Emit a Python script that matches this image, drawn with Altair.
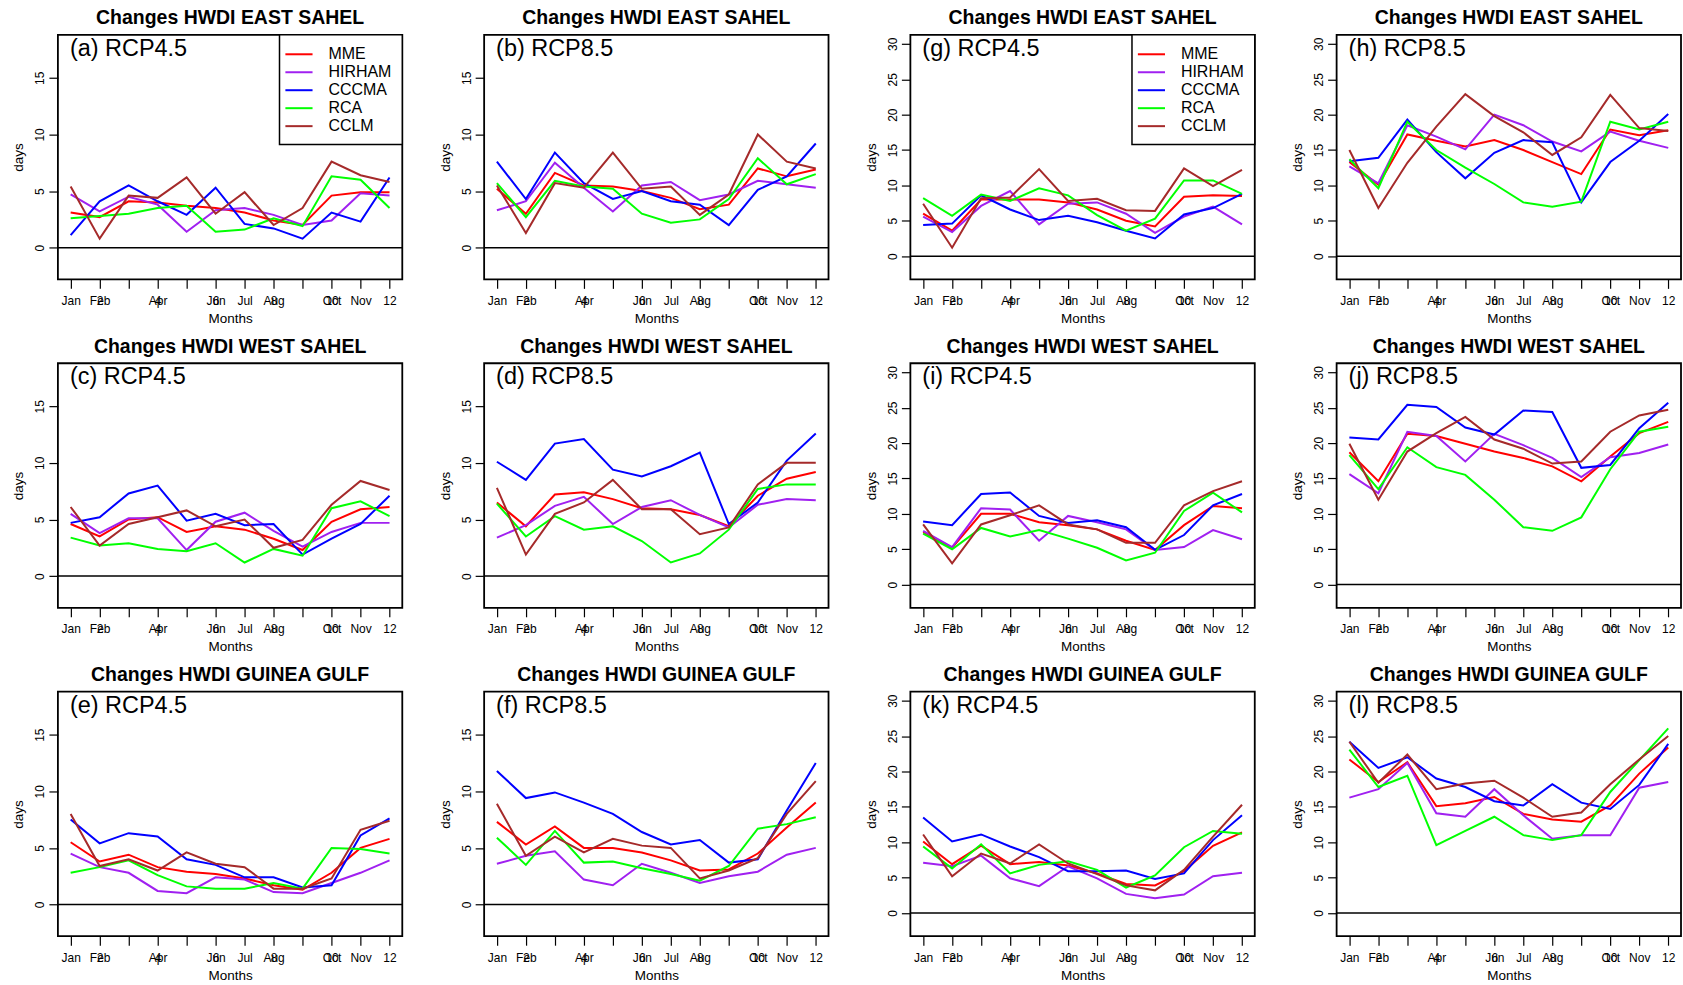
import altair as alt
import pandas as pd

FONT = "Liberation Sans"

months = list(range(1, 13))
month_names = ["Jan", "Feb", "Mar", "Apr", "May", "Jun", "Jul", "Aug", "Sep", "Oct", "Nov", "Dec"]
shown_month_labels = [1, 2, 4, 6, 7, 8, 10, 11]
number_ticks = [2, 4, 6, 8, 10, 12]
models = ["MME", "HIRHAM", "CCCMA", "RCA", "CCLM"]
colors = ["#FF0000", "#A020F0", "#0000FF", "#00FF00", "#A52A2A"]
yticks_left = [0, 5, 10, 15]
yticks_right = [0, 5, 10, 15, 20, 25, 30]

panel_a = {
    "MME":    [3.1, 2.7, 4.1, 4.0, 3.7, 3.5, 3.1, 2.4, 2.0, 4.6, 4.9, 4.9],
    "HIRHAM": [4.7, 3.2, 4.5, 3.8, 1.4, 3.3, 3.5, 2.9, 2.0, 2.4, 4.8, 4.6],
    "CCCMA":  [1.1, 4.1, 5.5, 4.1, 2.9, 5.3, 2.1, 1.7, 0.8, 3.1, 2.3, 6.2],
    "RCA":    [2.6, 2.8, 3.0, 3.5, 3.7, 1.4, 1.6, 2.6, 1.9, 6.3, 6.0, 3.5],
    "CCLM":   [5.4, 0.8, 4.6, 4.4, 6.2, 3.0, 4.9, 2.0, 3.5, 7.6, 6.4, 5.8],
}
panel_b = {
    "MME":    [5.2, 3.0, 6.6, 5.5, 5.4, 5.0, 4.4, 3.4, 3.8, 7.0, 6.3, 6.9],
    "HIRHAM": [3.3, 4.1, 7.5, 5.3, 3.2, 5.5, 5.8, 4.2, 4.7, 5.9, 5.6, 5.3],
    "CCCMA":  [7.6, 4.3, 8.4, 5.7, 4.3, 5.0, 4.1, 3.8, 2.0, 5.1, 6.3, 9.2],
    "RCA":    [5.7, 2.7, 5.9, 5.4, 5.2, 3.0, 2.2, 2.5, 4.3, 7.9, 5.6, 6.5],
    "CCLM":   [5.5, 1.3, 5.7, 5.3, 8.4, 5.2, 5.4, 2.9, 4.7, 10.0, 7.6, 7.0],
}
panel_g = {
    "MME":    [6.0, 3.6, 8.0, 8.0, 8.0, 7.6, 6.6, 5.0, 4.2, 8.4, 8.6, 8.5],
    "HIRHAM": [5.6, 3.4, 7.1, 9.2, 4.5, 7.4, 7.6, 6.0, 3.3, 5.6, 7.0, 4.5],
    "CCCMA":  [4.4, 4.6, 8.6, 6.6, 5.1, 5.7, 4.8, 3.6, 2.5, 5.9, 6.8, 8.8],
    "RCA":    [8.2, 5.7, 8.7, 7.8, 9.6, 8.6, 5.8, 3.6, 5.3, 10.7, 10.7, 8.8],
    "CCLM":   [7.4, 1.2, 8.2, 8.3, 12.3, 7.8, 8.1, 6.5, 6.4, 12.4, 9.9, 12.2],
}
panel_h = {
    "MME":    [13.3, 10.1, 17.2, 16.3, 15.5, 16.4, 15.0, 13.3, 11.6, 17.9, 17.1, 17.8],
    "HIRHAM": [12.7, 10.3, 18.5, 16.9, 15.1, 20.0, 18.5, 16.2, 14.8, 17.6, 16.3, 15.3],
    "CCCMA":  [13.4, 13.9, 19.3, 14.7, 11.0, 14.6, 16.4, 16.1, 7.6, 13.3, 16.3, 20.1],
    "RCA":    [13.7, 9.6, 19.0, 15.0, 12.5, 10.2, 7.6, 7.0, 7.7, 19.0, 17.9, 19.0],
    "CCLM":   [15.0, 6.8, 13.2, 18.3, 22.9, 19.8, 17.5, 14.3, 16.8, 22.8, 18.1, 17.7],
}
panel_c = {
    "MME":    [4.6, 3.5, 5.0, 5.2, 3.9, 4.4, 4.1, 3.3, 2.3, 4.8, 5.9, 6.1],
    "HIRHAM": [5.5, 3.8, 5.1, 5.1, 2.3, 4.8, 5.6, 4.0, 2.6, 3.9, 4.7, 4.7],
    "CCCMA":  [4.7, 5.2, 7.3, 8.0, 4.9, 5.5, 4.5, 4.6, 1.9, 3.3, 4.6, 7.1],
    "RCA":    [3.4, 2.7, 2.9, 2.4, 2.2, 2.9, 1.2, 2.4, 1.8, 6.0, 6.6, 5.3],
    "CCLM":   [6.1, 2.7, 4.6, 5.2, 5.8, 4.4, 5.0, 2.5, 3.2, 6.3, 8.4, 7.6],
}
panel_d = {
    "MME":    [6.5, 4.4, 7.2, 7.4, 6.8, 6.0, 5.9, 5.4, 4.4, 7.1, 8.6, 9.2],
    "HIRHAM": [3.4, 4.5, 6.2, 7.0, 4.6, 6.1, 6.7, 5.4, 4.3, 6.3, 6.8, 6.7],
    "CCCMA":  [10.1, 8.5, 11.7, 12.1, 9.4, 8.8, 9.7, 10.9, 4.6, 6.5, 10.2, 12.6],
    "RCA":    [6.4, 3.5, 5.3, 4.1, 4.4, 3.1, 1.2, 2.0, 4.1, 7.7, 8.1, 8.1],
    "CCLM":   [7.8, 1.9, 5.5, 6.5, 8.5, 5.9, 5.9, 3.7, 4.3, 8.1, 10.0, 10.0],
}
panel_i = {
    "MME":    [7.4, 5.2, 10.0, 10.0, 8.8, 8.4, 7.8, 6.2, 4.9, 8.4, 11.1, 10.8],
    "HIRHAM": [7.6, 5.3, 10.8, 10.6, 6.2, 9.7, 8.8, 7.8, 4.9, 5.3, 7.7, 6.4],
    "CCCMA":  [8.9, 8.4, 12.8, 13.0, 9.7, 8.7, 9.1, 8.1, 4.9, 7.0, 11.2, 12.8],
    "RCA":    [7.2, 5.0, 8.0, 6.8, 7.7, 6.5, 5.2, 3.4, 4.5, 10.4, 13.0, 10.2],
    "CCLM":   [8.5, 3.0, 8.5, 9.8, 11.2, 8.5, 7.8, 5.9, 5.9, 11.2, 13.2, 14.6],
}
panel_j = {
    "MME":    [18.7, 14.6, 21.3, 21.0, 19.9, 18.8, 17.9, 16.7, 14.6, 18.1, 21.4, 23.0],
    "HIRHAM": [15.6, 12.9, 21.6, 21.0, 17.4, 21.3, 19.7, 17.9, 15.2, 18.0, 18.6, 19.8],
    "CCCMA":  [20.8, 20.5, 25.4, 25.1, 22.2, 21.2, 24.6, 24.4, 16.5, 16.9, 22.1, 25.7],
    "RCA":    [18.3, 13.5, 19.4, 16.6, 15.5, 12.0, 8.1, 7.6, 9.5, 16.3, 21.6, 22.3],
    "CCLM":   [19.9, 12.0, 18.8, 21.4, 23.7, 20.5, 19.2, 17.1, 17.4, 21.6, 23.9, 24.7],
}
panel_e = {
    "MME":    [5.5, 3.8, 4.4, 3.3, 2.9, 2.7, 2.3, 1.7, 1.3, 2.8, 5.0, 5.8],
    "HIRHAM": [4.5, 3.3, 2.8, 1.2, 1.0, 2.4, 2.2, 1.1, 1.0, 1.9, 2.8, 3.9],
    "CCCMA":  [7.5, 5.4, 6.3, 6.0, 4.0, 3.5, 2.4, 2.4, 1.5, 1.7, 6.1, 7.6],
    "RCA":    [2.8, 3.3, 3.9, 2.6, 1.6, 1.4, 1.4, 1.9, 1.4, 5.0, 4.9, 4.5],
    "CCLM":   [8.0, 3.4, 4.0, 3.0, 4.6, 3.6, 3.3, 1.4, 1.4, 2.3, 6.6, 7.4],
}
panel_f = {
    "MME":    [7.3, 5.3, 6.9, 5.0, 5.0, 4.6, 3.9, 3.0, 3.1, 4.5, 6.8, 9.0],
    "HIRHAM": [3.6, 4.3, 4.7, 2.2, 1.7, 3.6, 2.8, 1.9, 2.5, 2.9, 4.4, 5.0],
    "CCCMA":  [11.8, 9.4, 9.9, 9.0, 8.0, 6.4, 5.3, 5.7, 3.7, 4.0, 8.3, 12.5],
    "RCA":    [5.9, 3.5, 6.5, 3.7, 3.8, 3.2, 2.7, 2.1, 3.4, 6.7, 7.1, 7.7],
    "CCLM":   [8.9, 4.3, 6.0, 4.6, 5.8, 5.2, 5.0, 2.3, 3.0, 4.1, 8.0, 10.9],
}
panel_k = {
    "MME":    [10.1, 6.9, 9.5, 6.9, 7.2, 6.7, 5.6, 4.1, 3.9, 5.9, 9.5, 11.4],
    "HIRHAM": [7.1, 6.6, 8.1, 4.9, 3.8, 6.6, 4.9, 2.7, 2.1, 2.6, 5.2, 5.7],
    "CCCMA":  [13.5, 10.1, 11.1, 9.4, 7.9, 5.9, 5.9, 6.0, 4.8, 5.6, 10.3, 13.8],
    "RCA":    [9.4, 6.3, 9.7, 5.6, 6.8, 7.3, 6.1, 3.6, 5.3, 9.3, 11.6, 11.2],
    "CCLM":   [11.1, 5.2, 8.4, 7.0, 9.7, 7.0, 5.5, 3.9, 3.2, 6.1, 10.8, 15.3],
}
panel_l = {
    "MME":    [21.7, 18.5, 21.3, 15.1, 15.5, 16.4, 14.0, 13.2, 12.9, 15.2, 19.7, 23.4],
    "HIRHAM": [16.3, 17.5, 21.2, 14.1, 13.6, 17.5, 13.8, 10.5, 11.0, 11.0, 17.7, 18.5],
    "CCCMA":  [24.2, 20.5, 22.0, 19.0, 17.8, 15.8, 15.2, 18.2, 15.6, 14.7, 18.1, 23.9],
    "RCA":    [23.1, 17.8, 19.4, 9.6, 11.6, 13.6, 11.0, 10.3, 11.0, 17.1, 21.6, 26.1],
    "CCLM":   [24.2, 18.4, 22.4, 17.5, 18.3, 18.7, 16.3, 13.6, 14.2, 18.2, 21.7, 25.0],
}

panel_specs = [
    ("a", "RCP4.5", "EAST SAHEL", panel_a, 18, yticks_left, True),
    ("b", "RCP8.5", "EAST SAHEL", panel_b, 18, yticks_left, False),
    ("g", "RCP4.5", "EAST SAHEL", panel_g, 30, yticks_right, True),
    ("h", "RCP8.5", "EAST SAHEL", panel_h, 30, yticks_right, False),
    ("c", "RCP4.5", "WEST SAHEL", panel_c, 18, yticks_left, False),
    ("d", "RCP8.5", "WEST SAHEL", panel_d, 18, yticks_left, False),
    ("i", "RCP4.5", "WEST SAHEL", panel_i, 30, yticks_right, False),
    ("j", "RCP8.5", "WEST SAHEL", panel_j, 30, yticks_right, False),
    ("e", "RCP4.5", "GUINEA GULF", panel_e, 18, yticks_left, False),
    ("f", "RCP8.5", "GUINEA GULF", panel_f, 18, yticks_left, False),
    ("k", "RCP4.5", "GUINEA GULF", panel_k, 30, yticks_right, False),
    ("l", "RCP8.5", "GUINEA GULF", panel_l, 30, yticks_right, False),
]

W, H = 345, 245
X_LO, X_HI = 1 - 0.04 * 11, 12 + 0.04 * 11

label_expr = ""
for m in shown_month_labels:
    label_expr += f"datum.value == {m} ? '{month_names[m - 1]}' : "
label_expr += "''"


def make_panel(letter, rcp, region, series, ymax, yticks, with_legend):
    rows = []
    for model in models:
        for m, v in zip(months, series[model]):
            rows.append({"month": m, "value": v, "model": model})
    df = pd.DataFrame(rows)
    span = ymax + 2
    yscale = alt.Scale(domain=[-2 - 0.04 * span, ymax + 0.04 * span], nice=False, zero=False)
    xscale = alt.Scale(domain=[X_LO, X_HI], nice=False, zero=False)

    if with_legend:
        legend = alt.Legend(
            title=None, orient="top-right", offset=0,
            strokeColor="black", fillColor="white", padding=10,
            labelFont=FONT, labelFontSize=16, labelColor="black",
            symbolType="M-1.6,0H1.6", symbolSize=289, symbolStrokeWidth=2,
            labelOffset=20, rowPadding=0,
        )
    else:
        legend = None

    lines = alt.Chart(df).mark_line(strokeWidth=2).encode(
        x=alt.X("month:Q", scale=xscale,
                axis=alt.Axis(values=months, labelExpr=label_expr, title="Months",
                              orient="bottom", labelPadding=7, titlePadding=5,
                              labelOverlap=False)),
        y=alt.Y("value:Q", scale=yscale,
                axis=alt.Axis(values=yticks, title="days", labelAngle=270,
                              labelAlign="center", labelBaseline="bottom",
                              labelPadding=2, titlePadding=8, format="d")),
        color=alt.Color("model:N", scale=alt.Scale(domain=models, range=colors),
                        sort=models, legend=legend),
        order=alt.Order("month:Q"),
    )

    zero = alt.Chart(pd.DataFrame({"v": [0]})).mark_rule(color="black", strokeWidth=1.5).encode(
        x=alt.X(datum=X_LO, scale=xscale,
                axis=alt.Axis(values=number_ticks, orient="bottom", title=None,
                              ticks=False, labelPadding=16, format="d",
                              labelOverlap=False)),
        x2=alt.datum(X_HI),
        y=alt.Y(datum=0),
    )

    tag = alt.Chart(pd.DataFrame({"label": [f"({letter}) {rcp}"]})).mark_text(
        align="left", baseline="middle", fontSize=23.5, font=FONT, color="black"
    ).encode(x=alt.value(12), y=alt.value(14), text="label:N")

    return alt.layer(lines, zero, tag).resolve_scale(x="independent").properties(
        width=W, height=H,
        title=alt.Title(f"Changes HWDI {region}", font=FONT, fontSize=19.5,
                        fontWeight="bold", color="black", offset=6),
    )


panels = [make_panel(*spec) for spec in panel_specs]

chart = alt.concat(
    *panels, columns=4, spacing={"row": 84, "column": 82}, bounds="flush"
).resolve_scale(color="independent").resolve_legend(color="independent").properties(
    padding={"left": 11, "top": 5, "right": 0, "bottom": 0}
).configure_view(
    stroke="black", strokeWidth=1.8
).configure_axis(
    grid=False, domain=False, tickColor="black", tickSize=9, tickWidth=1.2,
    labelColor="black", titleColor="black", labelFont=FONT, titleFont=FONT,
    labelFontSize=12, titleFontSize=13.5, titleFontWeight="normal",
).configure_legend(
    strokeWidth=1.5
)

chart.save("out.html", embed_options={"renderer": "svg", "actions": False})
